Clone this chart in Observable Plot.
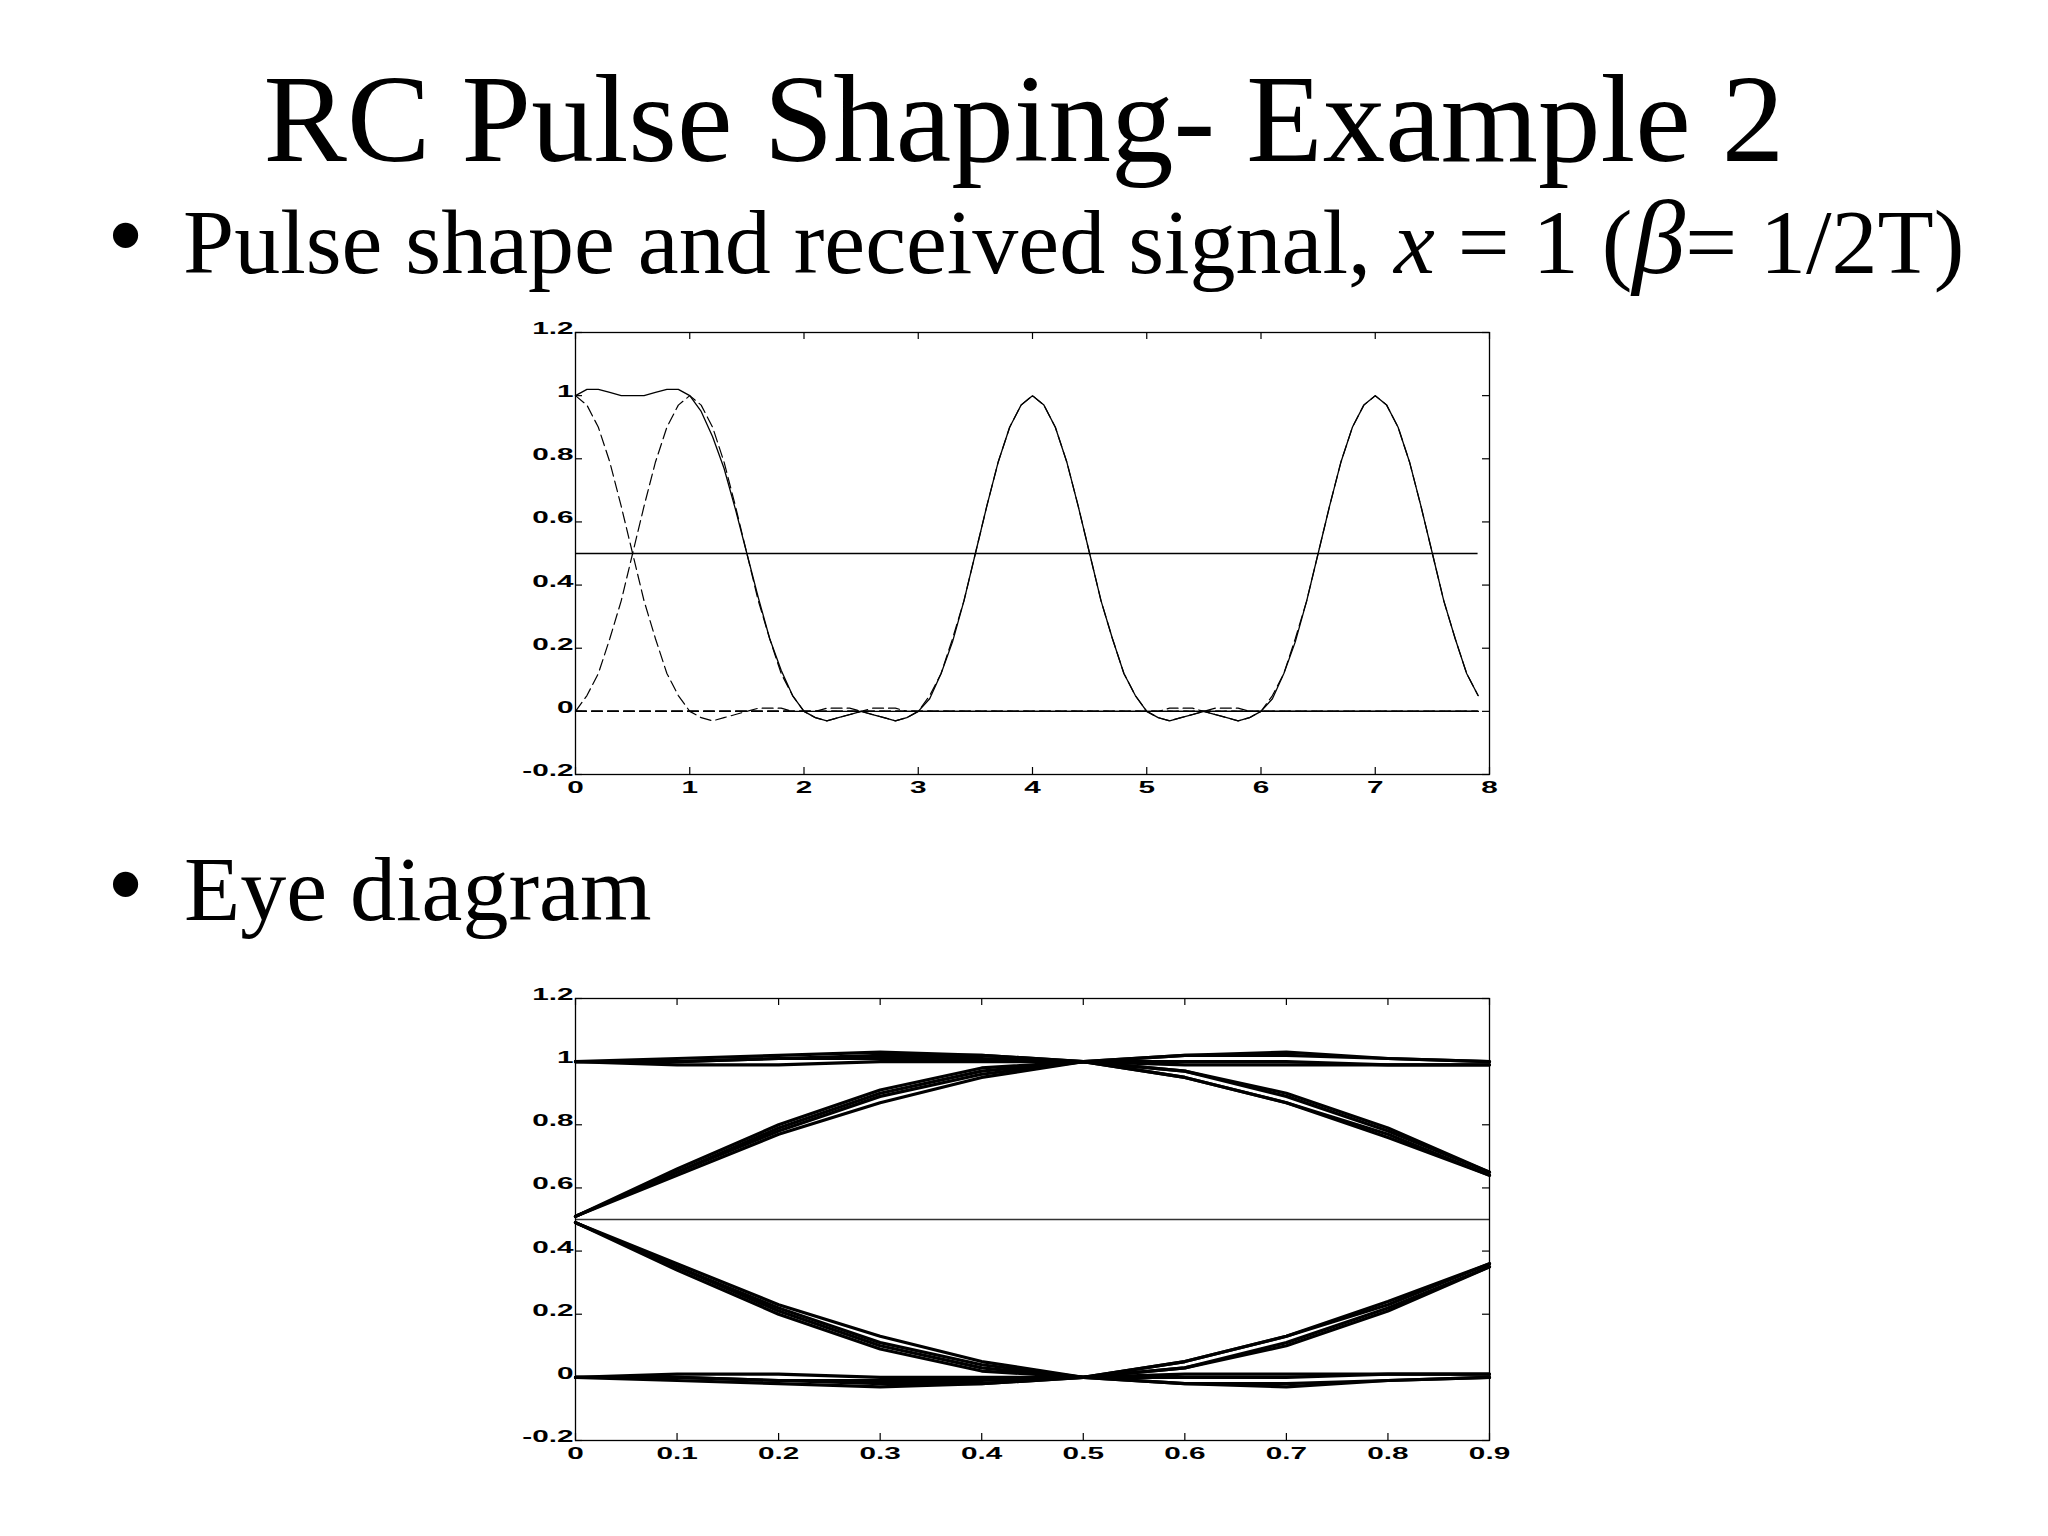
<!DOCTYPE html>
<html><head><meta charset="utf-8">
<script src="https://cdn.jsdelivr.net/npm/d3@7"></script>
<script src="https://cdn.jsdelivr.net/npm/@observablehq/plot@0.6"></script>
<style>
html,body{margin:0;padding:0;background:#fff;}
body{width:2048px;height:1536px;position:relative;overflow:hidden;}
#top,#eye,#txt{position:absolute;left:0;}
#top{top:300px;} #eye{top:966px;} #txt{top:0;pointer-events:none;}
</style></head><body>
<div id="top"></div><div id="eye"></div>
<svg id="txt" width="2048" height="1536" xmlns="http://www.w3.org/2000/svg"></svg>
<script>
// ---------- DATA ----------
const titleText = "RC Pulse Shaping- Example 2";
const bullet1 = ["Pulse shape and received signal, ", "x", " = 1 (", "β", "= 1/2T)"];
const bullet2 = "Eye diagram";

// top chart: sample step, transmitted bits (one per symbol period)
const sampleStep = 0.1;
const bits = [1, 1, 0, 0, 1, 0, 0, 1];
// raised-cosine pulse (x = 1) sampled at lags 0, 0.1, ... 2.0 (symmetric)
const pulseShape = [1.00, 0.97, 0.90, 0.79, 0.65, 0.50, 0.35, 0.23, 0.12, 0.05,
  0.00, -0.02, -0.03, -0.02, -0.01, 0.00, 0.01, 0.01, 0.01, 0.00, 0.00];
// received signal, t = 0 .. 7.9
const received = [
  1.00, 1.02, 1.02, 1.01, 1.00, 1.00, 1.00, 1.01, 1.02, 1.02,
  1.00, 0.95, 0.87, 0.77, 0.64, 0.50, 0.36, 0.23, 0.13, 0.05,
  0.00, -0.02, -0.03, -0.02, -0.01, 0.00, -0.01, -0.02, -0.03, -0.02,
  0.00, 0.04, 0.12, 0.22, 0.35, 0.50, 0.65, 0.79, 0.90, 0.97,
  1.00, 0.97, 0.90, 0.79, 0.65, 0.50, 0.35, 0.23, 0.12, 0.05,
  0.00, -0.02, -0.03, -0.02, -0.01, 0.00, -0.01, -0.02, -0.03, -0.02,
  0.00, 0.04, 0.12, 0.22, 0.35, 0.50, 0.65, 0.79, 0.90, 0.97,
  1.00, 0.97, 0.90, 0.79, 0.65, 0.50, 0.35, 0.23, 0.12, 0.05];
const threshold = 0.5;
const topXTicks = [0, 1, 2, 3, 4, 5, 6, 7, 8];
const yTicks = [-0.2, 0, 0.2, 0.4, 0.6, 0.8, 1, 1.2];

// eye diagram traces, w = 0 .. 0.9
const eyeU1 = [1.00, 1.00, 1.01, 1.01, 1.01, 1.00, 0.99, 0.99, 0.99, 0.99];
const eyeU2 = [1.00, 0.99, 0.99, 1.00, 1.00, 1.00, 1.00, 1.00, 0.99, 0.99];
const eyeU3 = [1.00, 1.01, 1.02, 1.03, 1.02, 1.00, 0.95, 0.87, 0.76, 0.64];
const eyeU4 = [0.51, 0.64, 0.77, 0.87, 0.95, 1.00, 1.02, 1.03, 1.01, 1.00];
const eyeU5 = [0.51, 0.65, 0.79, 0.90, 0.97, 1.00, 0.97, 0.90, 0.79, 0.65];
const eyeU6 = [0.51, 0.66, 0.80, 0.91, 0.98, 1.00, 0.97, 0.89, 0.78, 0.65];
const eyeU7 = [1.00, 1.00, 1.01, 1.02, 1.02, 1.00, 0.95, 0.87, 0.77, 0.64];
const eyeU8 = [0.51, 0.65, 0.78, 0.89, 0.96, 1.00, 1.02, 1.02, 1.01, 1.00];
const eyeL1 = [0.00, 0.00, -0.01, -0.01, -0.01, 0.00, 0.01, 0.01, 0.01, 0.01];
const eyeL2 = [0.00, 0.01, 0.01, 0.00, 0.00, 0.00, 0.00, 0.00, 0.01, 0.01];
const eyeL3 = [0.00, -0.01, -0.02, -0.03, -0.02, 0.00, 0.05, 0.13, 0.24, 0.36];
const eyeL4 = [0.49, 0.36, 0.23, 0.13, 0.05, 0.00, -0.02, -0.03, -0.01, 0.00];
const eyeL5 = [0.49, 0.35, 0.21, 0.10, 0.03, 0.00, 0.03, 0.10, 0.21, 0.35];
const eyeL6 = [0.49, 0.34, 0.20, 0.09, 0.02, 0.00, 0.03, 0.11, 0.22, 0.35];
const eyeL7 = [0.00, 0.00, -0.01, -0.02, -0.02, 0.00, 0.05, 0.13, 0.23, 0.36];
const eyeL8 = [0.49, 0.35, 0.22, 0.11, 0.04, 0.00, -0.02, -0.02, -0.01, 0.00];
const eyeXTicks = [0, 0.1, 0.2, 0.3, 0.4, 0.5, 0.6, 0.7, 0.8, 0.9];

// ---------- TABLES ----------
const samplesPerSymbol = Math.round(1 / sampleStep);
const receivedRows = received.map((v, i) => ({t: +(i * sampleStep).toFixed(2), v}));
const pulseRows = [];
bits.forEach((b, k) => {
  received.forEach((_, i) => {
    const lag = Math.abs(i - k * samplesPerSymbol);
    const s = lag < pulseShape.length ? pulseShape[lag] : 0;
    pulseRows.push({bit: k, t: +(i * sampleStep).toFixed(2), v: b * s});
  });
});
const eyeTraces = [eyeU1, eyeU2, eyeU3, eyeU4, eyeU5, eyeU6, eyeU7, eyeU8,
                   eyeL1, eyeL2, eyeL3, eyeL4, eyeL5, eyeL6, eyeL7, eyeL8];
const eyeRows = [];
eyeTraces.forEach((tr, j) => tr.forEach((v, i) => eyeRows.push({trace: j, w: eyeXTicks[i], v})));

// ---------- LAYOUT ----------
const SVGW = 2048, SVGH = 520;
const mL = 575, mR = 2048 - 1489, mT = 32;
const plotH = 442, mB = SVGH - mT - plotH;
const plotW = SVGW - mL - mR;
const tick = 7;
const fmt = d => String(+d.toFixed(2));
const common = {
  width: SVGW, height: SVGH, marginLeft: mL, marginRight: mR, marginTop: mT, marginBottom: mB,
  style: {background: "transparent", fontFamily: "Liberation Sans, Arial, sans-serif", fontSize: "17px", fontWeight: "bold", color: "black"}
};
function frameMarks(xTicks) {
  return [
    Plot.frame({stroke: "black", strokeWidth: 1.3}),
    Plot.tickY(yTicks, {y: d => d, insetRight: plotW - tick, stroke: "black", strokeWidth: 1.2}),
    Plot.tickY(yTicks, {y: d => d, insetLeft: plotW - tick, stroke: "black", strokeWidth: 1.2}),
    Plot.tickX(xTicks, {x: d => d, insetBottom: plotH - tick, stroke: "black", strokeWidth: 1.2}),
    Plot.tickX(xTicks, {x: d => d, insetTop: plotH - tick, stroke: "black", strokeWidth: 1.2}),
    Plot.axisY(yTicks, {tickSize: 0, tickPadding: 2, tickFormat: fmt, dy: -4, label: null}),
    Plot.axisX(xTicks, {tickSize: 0, tickPadding: 6, tickFormat: fmt, label: null})
  ];
}
function widen(svg, k) {
  svg.querySelectorAll('g[aria-label$="tick label"] text').forEach(el => {
    let tr = el.getAttribute('transform') || '';
    const xa = el.getAttribute('x');
    if (xa !== null && isFinite(+xa) && +xa !== 0) {
      el.removeAttribute('x');
      tr += ` translate(${+xa},0)`;
    }
    el.setAttribute('transform', tr + ` scale(${k},1)`);
  });
}

const topChart = Plot.plot({
  ...common,
  x: {domain: [topXTicks[0], topXTicks[topXTicks.length - 1]], label: null},
  y: {domain: [yTicks[0], yTicks[yTicks.length - 1]], label: null},
  marks: [
    Plot.line(pulseRows, {x: "t", y: "v", z: "bit", stroke: "black", strokeWidth: 1.2, strokeDasharray: "11,5"}),
    Plot.ruleY([threshold], {x1: receivedRows[0].t, x2: receivedRows[receivedRows.length - 1].t, stroke: "black", strokeWidth: 1.3}),
    Plot.line(receivedRows, {x: "t", y: "v", stroke: "black", strokeWidth: 1.3}),
    ...frameMarks(topXTicks)
  ]
});
widen(topChart, 1.75);
document.getElementById("top").appendChild(topChart);

const eyeChart = Plot.plot({
  ...common,
  x: {domain: [eyeXTicks[0], eyeXTicks[eyeXTicks.length - 1]], label: null},
  y: {domain: [yTicks[0], yTicks[yTicks.length - 1]], label: null},
  marks: [
    Plot.ruleY([threshold], {stroke: "#333", strokeWidth: 1.6}),
    Plot.line(eyeRows, {x: "w", y: "v", z: "trace", stroke: "black", strokeWidth: 3.2, strokeLinejoin: "round"}),
    ...frameMarks(eyeXTicks)
  ]
});
widen(eyeChart, 1.75);
document.getElementById("eye").appendChild(eyeChart);

// ---------- TEXT ----------
const NS = "http://www.w3.org/2000/svg";
const txt = document.getElementById("txt");
function addText(x, y, size, anchor) {
  const t = document.createElementNS(NS, "text");
  t.setAttribute("x", x); t.setAttribute("y", y);
  t.setAttribute("font-family", "Liberation Serif, Times New Roman, serif");
  t.setAttribute("font-size", size);
  t.setAttribute("fill", "black");
  if (anchor) t.setAttribute("text-anchor", anchor);
  txt.appendChild(t);
  return t;
}
function span(parent, s, attrs) {
  const ts = document.createElementNS(NS, "tspan");
  ts.textContent = s;
  for (const k in attrs) ts.setAttribute(k, attrs[k]);
  parent.appendChild(ts);
}
addText(1024, 161, 125, "middle").textContent = titleText;
addText(107, 270, 106).textContent = "•";
const b1 = addText(183, 273, 92);
span(b1, bullet1[0], {});
span(b1, bullet1[1], {"font-style": "italic"});
span(b1, bullet1[2], {});
span(b1, bullet1[3], {"font-style": "italic", "font-size": 106});
span(b1, bullet1[4], {});
addText(107, 919, 106).textContent = "•";
addText(184, 920, 92).textContent = bullet2;
</script></body></html>
